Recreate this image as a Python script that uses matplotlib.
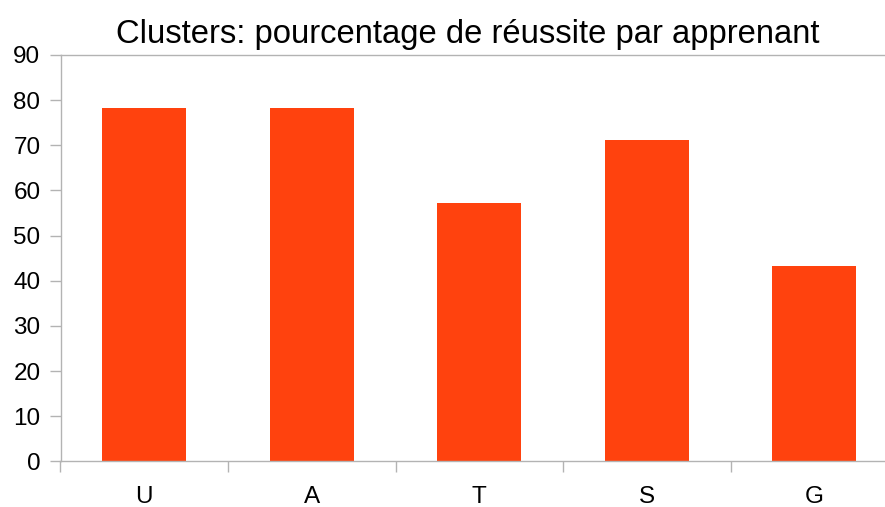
import matplotlib
matplotlib.use("Agg")
import matplotlib.pyplot as plt
import numpy as np

categories = ["U", "A", "T", "S", "G"]
values = [78.3, 78.3, 57.3, 71.2, 43.3]
yticks = [0, 10, 20, 30, 40, 50, 60, 70, 80, 90]

plt.rcParams['font.family'] = ['Liberation Sans', 'DejaVu Sans']

W, H = 885, 507
PX = 72 / 100  # points per pixel
fig = plt.figure(figsize=(W/100, H/100), dpi=100)
left, right = 60.5, 898
bottom, top = 461.3, 55
ax = fig.add_axes([left/W, (H-bottom)/H, (right-left)/W, (bottom-top)/H])

x = np.arange(len(categories))
ax.bar(x, values, width=0.5, color="#ff420e", zorder=2)
ax.set_xlim(-0.5, len(categories)-0.5)
ax.set_ylim(0, 90)

gray = "#b3b3b3"
lw = 1.3 * PX * 1.389
for s in ["right", "top"]:
    ax.spines[s].set_visible(False)
for s in ["left", "bottom"]:
    ax.spines[s].set_color(gray)
    ax.spines[s].set_linewidth(1.0)
ax.axhline(90, color=gray, lw=1.0, clip_on=False, zorder=1)

ax.set_yticks(yticks)
ax.tick_params(axis="y", direction="out", length=11*PX, width=1.0, color=gray,
               labelsize=17.5, pad=9*PX, labelcolor="black")

ax.set_xticks(np.arange(len(categories)) - 0.5)
ax.set_xticklabels([])
ax.tick_params(axis="x", which="major", direction="out", length=11*PX, width=1.0, color=gray)
ax.set_xticks(x, minor=True)
ax.set_xticklabels(categories, minor=True)
ax.tick_params(axis="x", which="minor", length=0, labelsize=17.5, pad=25*PX, labelcolor="black")

fig.text(0.5*(117+818)/W, 1 - 43/H, "Clusters: pourcentage de réussite par apprenant",
         ha="center", va="baseline", fontsize=23.6, color="black")

fig.savefig("out.png", dpi=100)
